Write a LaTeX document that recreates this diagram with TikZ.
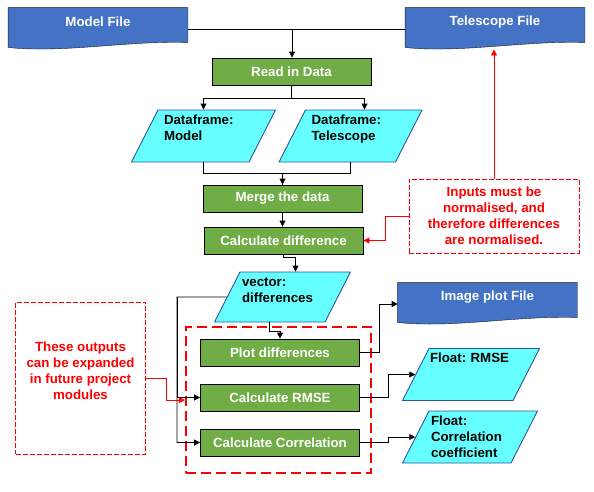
\documentclass[tikz,border=0pt]{standalone}
\usepackage{fontspec}
\setmainfont{Liberation Sans}
\usetikzlibrary{shapes.geometric, arrows.meta, calc, backgrounds}

\definecolor{docblue}{HTML}{4472C4}
\definecolor{docline}{HTML}{1A1A1A}
\definecolor{procgreen}{HTML}{70AD47}
\definecolor{iocyan}{HTML}{66FFFF}
\definecolor{ioline}{HTML}{2F5597}

% wavy document outline round a named node
\newcommand{\docshape}[1]{%
  \filldraw[fill=docblue, draw=docline] (#1.north west) -- (#1.north east) -- ([yshift=-6pt]#1.south east)
    .. controls +(-60,-2) and +(55,6) .. ([yshift=-11pt]#1.south west) -- cycle;}

\begin{document}
\frenchspacing
\begin{tikzpicture}[x=1pt, y=-1pt, % pixel-like coordinates, y runs down
                    line width=0.9pt,
                    every node/.style = {font=\fontsize{13.3}{16}\selectfont\bfseries, inner sep=2pt},
                    docnode/.style = {minimum width=179pt, minimum height=28pt, text=white},
                    procbox/.style = {draw=black, fill=procgreen, text=white, minimum width=159pt, minimum height=27pt},
                    iobox/.style = {trapezium, trapezium left angle=63, trapezium right angle=117,
                                    draw=ioline, fill=iocyan, align=left, inner xsep=2pt, inner ysep=4pt,
                                    text height=10pt, text depth=34pt, text width=#1},
                    notebox/.style = {draw=red, line width=0.8pt, dash pattern=on 5pt off 2pt, text=red, align=center},
                    groupbox/.style = {draw=red, line width=2.2pt, dash pattern=on 10pt off 5pt,
                                       minimum width=185pt, minimum height=146pt},
                    arr/.style = {-{Triangle[length=6pt,width=6pt]}},
                    redarr/.style = {red, arr}
                   ]
  \useasboundingbox (0,0) rectangle (594,491);

  % input files and first steps
  \node[docnode] (model) at (98,22) {Model File};
  \node[docnode] (tele) at (495,22) {Telescope File};
  \node[procbox] (read) at (291.5,71.5) {Read in Data};
  \node[iobox=79pt, inner xsep=6pt] (dfmodel) at (203.5,136) {Dataframe:\\Model};
  \node[iobox=78pt, inner xsep=6pt] (dftele) at (350.5,136) {Dataframe:\\Telescope};
  \node[procbox] (merge) at (282.5,198.5) {Merge the data};
  \node[procbox] (calcdiff) at (283.5,240.5) {Calculate difference};
  \node[iobox=81pt, text depth=32pt] (vec) at (282.5,297) {vector:\\differences};

  % outputs
  \node[groupbox] (group) at (278.5,400) {};
  \node[procbox] (plot) at (280,352.5) {Plot differences};
  \node[procbox] (rmse) at (280,397.5) {Calculate RMSE};
  \node[procbox] (corr) at (280,442.5) {Calculate Correlation};
  \node[docnode] (img) at (487.5,297) {Image plot File};
  \node[iobox=82pt, inner xsep=1pt] (frmse) at (471,374.5) {Float: RMSE};
  \node[iobox=78pt] (fcorr) at (470,437) {Float:\\Correlation\\coefficient};

  % notes
  \node[notebox, minimum width=170pt, minimum height=74pt] (note1) at (494,216)
    {Inputs must be\\normalised, and\\therefore differences\\are normalised.};
  \node[notebox, minimum width=130pt, minimum height=152pt, text depth=14pt] (note2) at (80.5,378)
    {These outputs\\can be expanded\\in future project\\modules};

  \begin{scope}[on background layer]
    \docshape{model}
    \docshape{tele}
    \docshape{img}
  \end{scope}

  % connectors
  \coordinate (join) at (292,29);
  \draw (model.east |- join) -- (tele.west |- join);
  \draw[arr] (join) -- (join |- read.north);
  \draw[arr] (read.south) -- ++(0,13) -| (dfmodel.center |- dfmodel.north);
  \draw[arr] (read.south) ++(0,13) -| ([xshift=14pt]dftele.north);
  \draw[arr] (dfmodel.center |- dfmodel.south) -- ++(0,11) -| (merge.north);
  \draw (dftele.center |- dftele.south) -- ++(0,11) -| (merge.north);
  \draw[arr] (merge.south) -- (merge.south |- calcdiff.north);
  \draw[arr] (calcdiff.south) -- ++(0,3) -| ([xshift=13pt]vec.north);
  \draw[arr] ([xshift=-13pt]vec.south) -- ++(0,9) -| (plot.north);
  \coordinate (trunk) at (177,297);
  \draw[arr] (vec.west) -- (trunk) |- (corr.west);
  \draw[arr] (trunk) |- (rmse.west);
  \draw[arr] (plot.east) -- ++(19,0) |- ([yshift=-7pt]img.west);
  \draw[arr] (rmse.east) -- ++(28,0) |- (frmse.west);
  \draw[arr] (corr.east) -- ++(28,0) |- (fcorr.west);

  % red notes
  \draw[redarr] (note1.west) -- ++(-23,0) |- (calcdiff.east);
  \draw[redarr] (note1.north) -- ($(note1.north |- tele.south)+(0,13)$);
  \draw[redarr] (note2.east) -- ++(21,0) |- (group.west);
\end{tikzpicture}
\end{document}
